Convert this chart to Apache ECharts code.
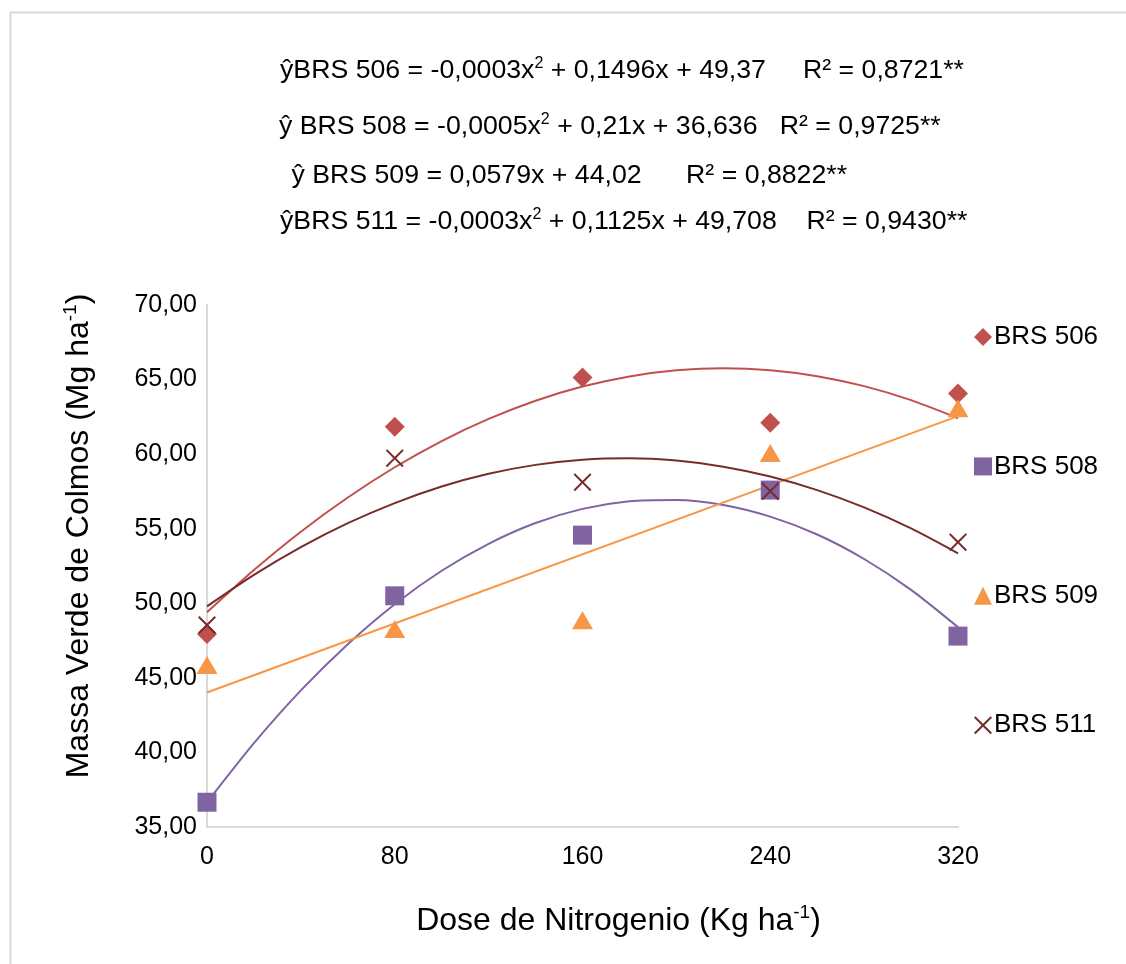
<!DOCTYPE html>
<html>
<head>
<meta charset="utf-8">
<script src="https://cdn.jsdelivr.net/npm/echarts@6/dist/echarts.min.js"></script>
<style>
html,body{margin:0;padding:0;background:#fff;}
#chart{width:1126px;height:964px;}
</style>
</head>
<body>
<div id="chart"></div>
<script>
// Doses (x values)
const doses = [0, 80, 160, 240, 320];
// Observed values (Mg ha-1)
const brs506 = [47.94, 61.83, 65.14, 62.10, 64.07];
const brs508 = [36.66, 50.50, 54.57, 57.59, 47.80];
const brs509 = [45.86, 48.27, 48.87, 60.07, 63.08];
const brs511 = [48.54, 59.73, 58.12, 57.52, 54.10];

// Trend-line values, at these x positions
const trendX = [0, 20, 40, 60, 80, 100, 120, 140, 160, 180, 200, 220, 240, 260, 280, 300, 320];
const trend506 = [49.40, 52.23, 54.80, 57.09, 59.12, 60.88, 62.36, 63.58, 64.53, 65.21, 65.62, 65.76, 65.63, 65.23, 64.56, 63.62, 62.41];
const trend508 = [36.65, 40.62, 44.16, 47.26, 49.94, 52.18, 53.99, 55.38, 56.33, 56.84, 56.93, 56.59, 55.81, 54.61, 52.97, 50.90, 48.40];
const trend511 = [49.79, 51.90, 53.76, 55.37, 56.72, 57.83, 58.68, 59.28, 59.63, 59.73, 59.57, 59.16, 58.50, 57.59, 56.43, 55.02, 53.35];
const trend509X = [0, 320];
const trend509 = [44.02, 62.55];

// Axis ticks
const xTicks = [0, 80, 160, 240, 320];
const yMin = 35, yMax = 70, yStep = 5;

// Series names and equations
const names = ['BRS 506', 'BRS 508', 'BRS 509', 'BRS 511'];
const equations = [
  ['ŷBRS 506 = -0,0003x', '2', ' + 0,1496x + 49,37     R² = 0,8721**'],
  ['ŷ BRS 508 = -0,0005x', '2', ' + 0,21x + 36,636   R² = 0,9725**'],
  [' ŷ BRS 509 = 0,0579x + 44,02      R² = 0,8822**'],
  ['ŷBRS 511 = -0,0003x', '2', ' + 0,1125x + 49,708    R² = 0,9430**']
];

const colors = ['#C0504D', '#8064A2', '#F79646', '#772C2A'];
const crossPath = 'path://M0,0.8L0.8,0L5,4.2L9.2,0L10,0.8L5.8,5L10,9.2L9.2,10L5,5.8L0.8,10L0,9.2L4.2,5Z';
const symbols = ['diamond', 'rect', 'triangle', crossPath];
const symbolSizes = [[20, 20], [19, 19], [21, 18], [18, 18]];

const FONT = '"Liberation Sans", Arial, sans-serif';

function pairs(xs, ys) { return xs.map((x, i) => [x, ys[i]]); }

const obs = [brs506, brs508, brs509, brs511];
const trends = [pairs(trendX, trend506), pairs(trendX, trend508), pairs(trend509X, trend509), pairs(trendX, trend511)];

const series = [];
trends.forEach((t, i) => {
  series.push({
    name: 'Tendência ' + names[i],
    type: 'line',
    data: t,
    smooth: 0.25,
    showSymbol: false,
    symbol: 'none',
    lineStyle: { color: colors[i], width: 2 },
    itemStyle: { color: colors[i] },
    z: 2,
    silent: true
  });
});
obs.forEach((vals, i) => {
  series.push({
    name: names[i],
    type: 'scatter',
    data: pairs(doses, vals),
    symbol: symbols[i],
    symbolSize: symbolSizes[i],
    itemStyle: { color: colors[i], opacity: 1 },
    z: 3 + i
  });
});

const eqTops = [56, 112, 162, 207];
const eqLefts = [280, 279, 284, 280];
const graphics = [{
  type: 'rect',
  left: 8, top: 10,
  shape: { x: 0, y: 0, width: 1300, height: 1100 },
  style: { fill: 'none', stroke: '#d9d9d9', lineWidth: 2 },
  silent: true
}];
equations.forEach((parts, i) => {
  let txt = '{m|' + parts[0] + '}';
  if (parts.length > 1) txt += '{s|' + parts[1] + '}{m|' + parts[2] + '}';
  graphics.push({
    type: 'text',
    left: eqLefts[i], top: eqTops[i],
    style: {
      text: txt,
      fill: '#000',
      rich: {
        m: { fontSize: 26.7, fontFamily: FONT, lineHeight: 30, fill: '#000' },
        s: { fontSize: 16, fontFamily: FONT, lineHeight: 16, verticalAlign: 'top', fill: '#000' }
      }
    }
  });
});

const chart = echarts.init(document.getElementById('chart'), null, { renderer: 'canvas' });
chart.setOption({
  backgroundColor: '#fff',
  animation: false,
  color: colors,
  textStyle: { fontFamily: FONT },
  grid: { left: 207, right: 168, top: 305, bottom: 137, containLabel: false },
  xAxis: {
    type: 'value',
    min: xTicks[0], max: xTicks[xTicks.length - 1], interval: 80,
    axisLine: { show: true, lineStyle: { color: '#d9d9d9', width: 2 } },
    axisTick: { show: false },
    splitLine: { show: false },
    axisLabel: { fontSize: 25, color: '#000', margin: 18, fontFamily: FONT },
    name: '{m|Dose de Nitrogenio (Kg ha}{s|-1}{m|)}',
    nameLocation: 'middle',
    nameGap: 76,
    nameTextStyle: {
      padding: [0, 0, 0, 72],
      rich: {
        m: { fontSize: 32, fontFamily: FONT, lineHeight: 36, color: '#000' },
        s: { fontSize: 19, fontFamily: FONT, lineHeight: 19, verticalAlign: 'top', color: '#000' }
      }
    }
  },
  yAxis: {
    type: 'value',
    min: yMin, max: yMax, interval: yStep,
    axisLine: { show: true, lineStyle: { color: '#d9d9d9', width: 2 } },
    axisTick: { show: false },
    splitLine: { show: false },
    axisLabel: {
      fontSize: 25, color: '#000', margin: 10, fontFamily: FONT,
      formatter: v => v.toFixed(2).replace('.', ',')
    },
    name: '{m|Massa Verde de Colmos (Mg ha}{s|-1}{m|)}',
    nameLocation: 'middle',
    nameGap: 110,
    nameRotate: 90,
    nameTextStyle: {
      padding: [0, 0, 0, 60],
      rich: {
        m: { fontSize: 32, fontFamily: FONT, lineHeight: 36, color: '#000' },
        s: { fontSize: 19, fontFamily: FONT, lineHeight: 19, verticalAlign: 'top', color: '#000' }
      }
    }
  },
  legend: {
    data: names,
    orient: 'vertical',
    left: 969, top: 319,
    itemGap: 103.4,
    itemWidth: 18, itemHeight: 18,
    itemStyle: { opacity: 1 },
    textStyle: { fontSize: 26, color: '#000', fontFamily: FONT, padding: [0, 0, 0, -3] },
    selectedMode: false
  },
  graphic: graphics,
  series: series
});
</script>
</body>
</html>
